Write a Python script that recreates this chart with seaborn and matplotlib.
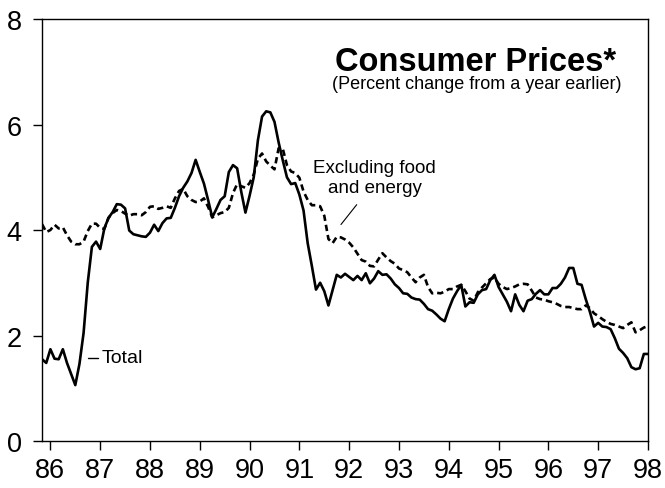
import numpy as np
import pandas as pd
import matplotlib
matplotlib.use("Agg")
import matplotlib.pyplot as plt
import seaborn as sns

# Monthly, Nov 1985 .. Jan 1998 (percent change from a year earlier)
total = [1.55, 1.48, 1.74, 1.56, 1.55, 1.74, 1.48, 1.27, 1.06, 1.46,
         2.05, 3.00, 3.68, 3.78, 3.64, 4.03, 4.23, 4.34, 4.49, 4.48,
         4.41, 3.99, 3.92, 3.90, 3.88, 3.87, 3.95, 4.10, 3.98, 4.13,
         4.22, 4.23, 4.42, 4.64, 4.80, 4.92, 5.08, 5.33, 5.10, 4.88,
         4.57, 4.24, 4.40, 4.57, 4.64, 5.10, 5.23, 5.17, 4.72, 4.33,
         4.65, 5.00, 5.70, 6.15, 6.25, 6.23, 6.05, 5.66, 5.32, 5.00,
         4.87, 4.89, 4.67, 4.37, 3.75, 3.32, 2.87, 3.00, 2.84, 2.57,
         2.86, 3.15, 3.10, 3.17, 3.11, 3.05, 3.13, 3.05, 3.18, 2.99,
         3.08, 3.22, 3.15, 3.16, 3.08, 2.97, 2.90, 2.80, 2.79, 2.72,
         2.69, 2.68, 2.60, 2.50, 2.47, 2.40, 2.32, 2.27, 2.50, 2.70,
         2.84, 2.96, 2.55, 2.63, 2.62, 2.78, 2.86, 2.88, 3.05, 3.15,
         2.92, 2.78, 2.64, 2.46, 2.78, 2.58, 2.46, 2.66, 2.69, 2.79,
         2.86, 2.78, 2.78, 2.90, 2.90, 2.98, 3.10, 3.28, 3.28, 2.98,
         2.96, 2.69, 2.45, 2.17, 2.24, 2.17, 2.16, 2.12, 1.95, 1.75,
         1.67, 1.57, 1.40, 1.36, 1.38, 1.65, 1.65]

core = [4.11, 3.96, 4.00, 4.10, 4.03, 4.05, 3.90, 3.78, 3.73, 3.73,
        3.78, 3.98, 4.12, 4.12, 4.04, 4.02, 4.23, 4.32, 4.38, 4.36,
        4.31, 4.27, 4.30, 4.30, 4.28, 4.34, 4.44, 4.45, 4.40, 4.42,
        4.45, 4.42, 4.60, 4.74, 4.78, 4.64, 4.57, 4.53, 4.54, 4.60,
        4.44, 4.24, 4.28, 4.32, 4.34, 4.42, 4.70, 4.87, 4.83, 4.80,
        4.89, 5.05, 5.35, 5.45, 5.30, 5.22, 5.15, 5.55, 5.54, 5.23,
        5.11, 5.08, 4.99, 4.73, 4.57, 4.47, 4.47, 4.45, 4.27, 3.83,
        3.75, 3.87, 3.86, 3.82, 3.76, 3.67, 3.55, 3.43, 3.40, 3.32,
        3.31, 3.44, 3.56, 3.48, 3.41, 3.36, 3.27, 3.24, 3.20, 3.10,
        3.01, 3.10, 3.15, 2.92, 2.80, 2.81, 2.80, 2.83, 2.88, 2.88,
        2.93, 2.96, 2.84, 2.70, 2.66, 2.82, 2.91, 2.99, 3.07, 3.10,
        2.98, 2.92, 2.88, 2.90, 2.93, 2.97, 2.98, 2.97, 2.85, 2.72,
        2.69, 2.68, 2.65, 2.63, 2.60, 2.56, 2.54, 2.54, 2.52, 2.50,
        2.50, 2.57, 2.52, 2.42, 2.37, 2.31, 2.26, 2.22, 2.20, 2.17,
        2.14, 2.20, 2.25, 2.06, 2.10, 2.15, 2.18]

year_ticks = list(range(86, 99))
year_labels = [str(y) for y in year_ticks]
y_ticks = [0, 2, 4, 6, 8]

n = len(total)
months = 85 + (10 + np.arange(n)) / 12.0

df = pd.DataFrame({
    "date": np.concatenate([months, months]),
    "value": total + core,
    "series": ["Total"] * n + ["Excluding food and energy"] * n,
})

sns.set_style("ticks")
plt.rcParams["font.family"] = ["Liberation Sans", "DejaVu Sans"]
plt.rcParams["text.color"] = "black"

fig = plt.figure(figsize=(6.65, 4.89), dpi=100)
ax = fig.add_axes([0.0638, 0.0961, 0.9106, 0.8630])

sns.lineplot(data=df, x="date", y="value", hue="series", style="series",
             palette={"Total": "black", "Excluding food and energy": "black"},
             dashes={"Total": "", "Excluding food and energy": (2.4, 1.5)},
             linewidth=1.9, legend=False, ax=ax)

ax.set_xlim(85.84, 98.0)
ax.set_ylim(0, 8)
ax.set_xticks(year_ticks)
ax.set_xticklabels(year_labels)
ax.set_yticks(y_ticks)
ax.set_xlabel("")
ax.set_ylabel("")
ax.tick_params(axis="both", direction="out", length=6.5, width=1.0,
               labelsize=19.5, colors="black")
ax.tick_params(axis="y", pad=8.5)
ax.tick_params(axis="x", pad=5)
for s in ax.spines.values():
    s.set_visible(True)
    s.set_linewidth(1.0)
    s.set_color("black")

ax.text(0.716, 0.900, "Consumer Prices*", transform=ax.transAxes,
        ha="center", va="center", fontsize=23.5, fontweight="bold", color="black")
ax.text(0.718, 0.847, "(Percent change from a year earlier)", transform=ax.transAxes,
        ha="center", va="center", fontsize=13, color="black")

ax.text(0.549, 0.624, "Excluding food\nand energy", transform=ax.transAxes,
        ha="center", va="center", fontsize=13.5, linespacing=1.2, color="black")
ax.plot([0.519, 0.493], [0.560, 0.513], transform=ax.transAxes,
        color="black", lw=0.8)

ax.plot([0.075, 0.092], [0.197, 0.197], transform=ax.transAxes,
        color="black", lw=1.0)
ax.text(0.097, 0.197, "Total", transform=ax.transAxes,
        ha="left", va="center", fontsize=14, color="black")

fig.savefig("out.png", dpi=100)
